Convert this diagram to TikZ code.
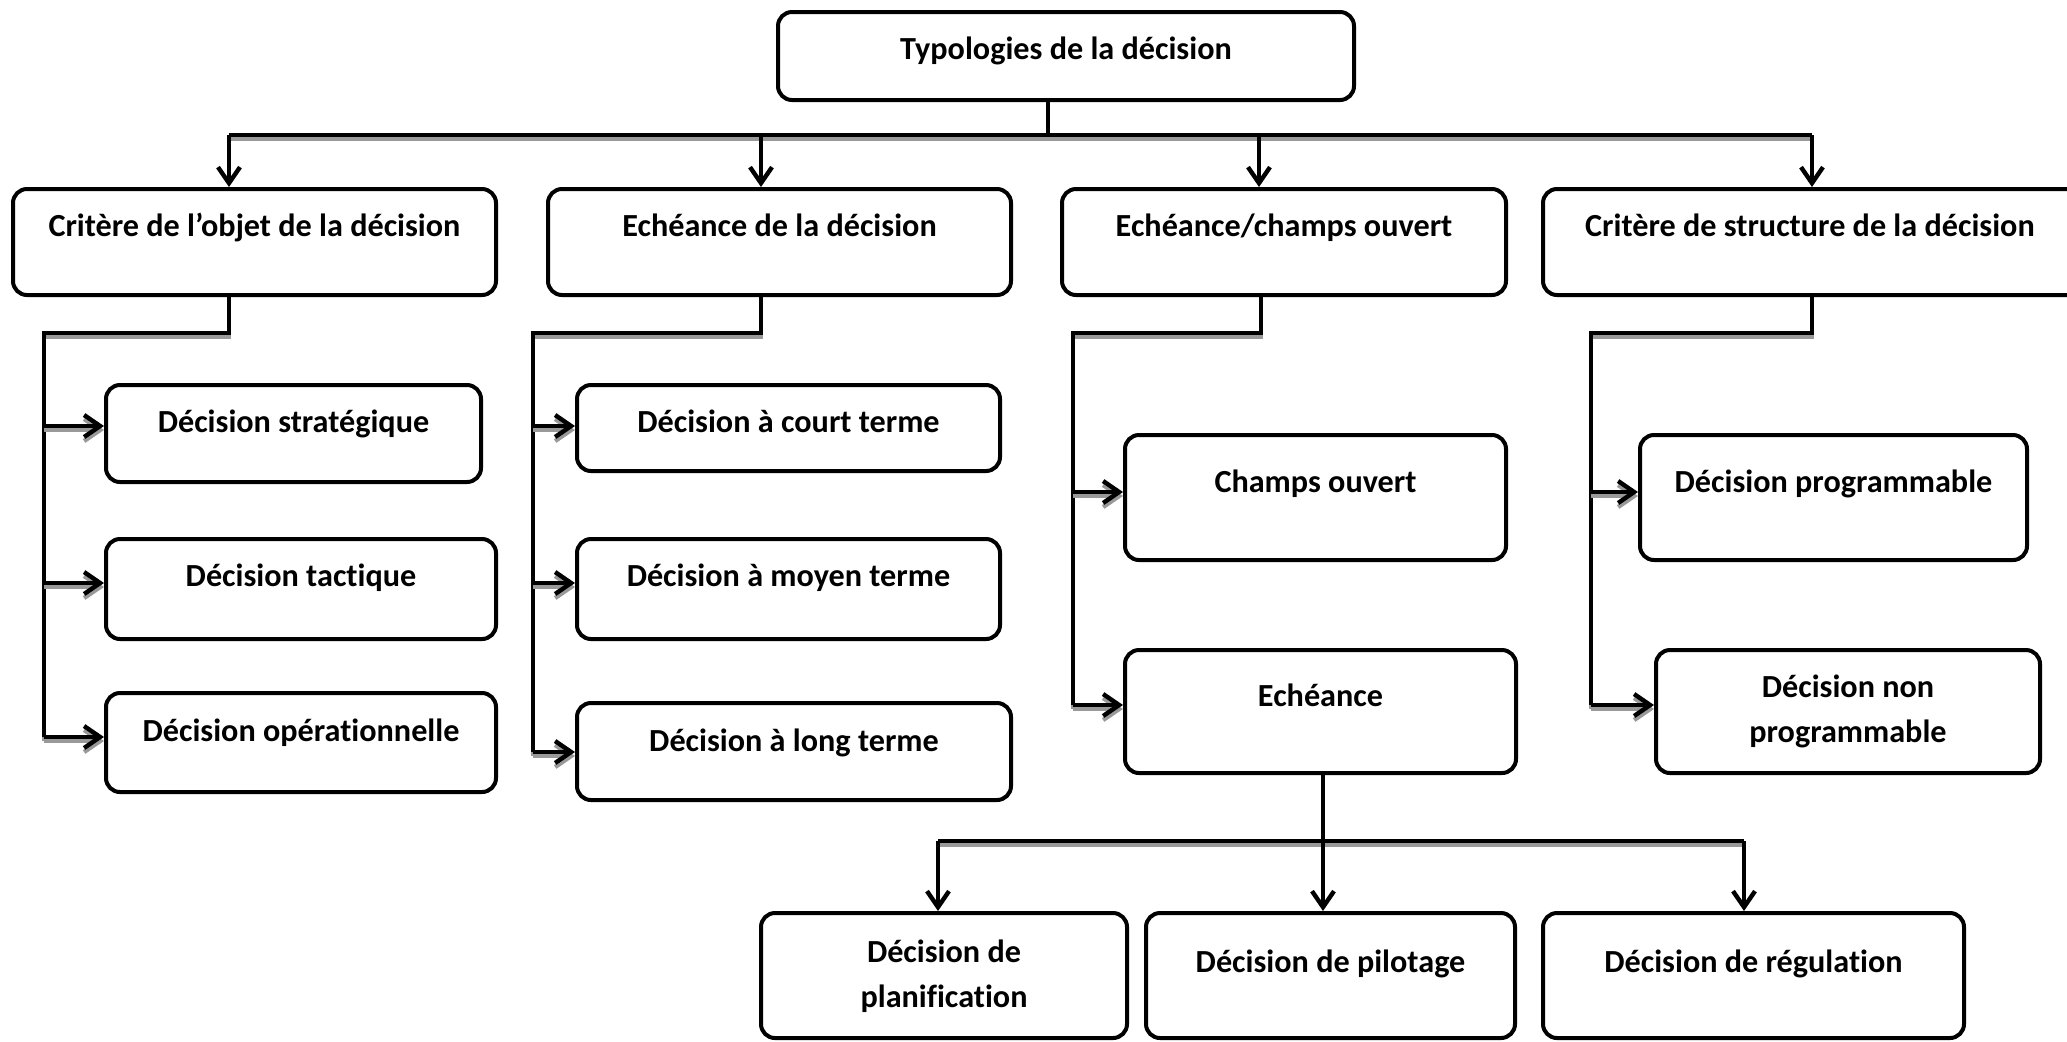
\documentclass[tikz,border=0pt]{standalone}
\usepackage{fontspec}
\setmainfont{Carlito}[Ligatures=NoCommon]
\usetikzlibrary{arrows.meta,backgrounds}

% rounded box given by its corners (x1,y1)-(x2,y2), in pixel units
\newcommand\mybox[5]{%
  \node[box, minimum width={(#4-#2)*0.5pt}, minimum height={(#5-#3)*0.5pt}]
    (#1) at ({(#2+#4)/2},{(#3+#5)/2}) {};}
% one line of text set on a baseline
\newcommand\mytext[4]{\node[lbl, anchor=base] (#1) at (#2,#3) {#4};}
% a connector with its grey drop shadow underneath
\newcommand\wire[2]{\draw[shade,#1] #2; \draw[wireline,#1] #2;}

\begin{document}
\begin{tikzpicture}[x=0.5pt,y=-0.5pt,
  box/.style={draw, line width=2pt, rounded corners=7pt, fill=white, inner sep=0pt},
  lbl/.style={font=\fontsize{16.1}{22.5}\selectfont\bfseries, align=center, inner sep=0pt},
  wireline/.style={line width=1.9pt, draw=black},
  shade/.style={line width=1.9pt, draw=black!40, transform canvas={yshift=-2pt}},
  tip/.style={-{Straight Barb[length=8pt,width=11pt,line width=2.2pt]}}]
\useasboundingbox (0,0) rectangle (2067,1041);

% ---------- boxes ----------
\mybox{T}{778}{12}{1354}{100}
\mybox{A}{13}{189}{496}{295}
\mybox{B}{548}{189}{1011}{295}
\mybox{C}{1062}{189}{1506}{295}
\mybox{D}{1543}{189}{2085}{295}
\mybox{S}{106}{385}{481}{482}
\mybox{Tac}{106}{539}{496}{639}
\mybox{Op}{106}{693}{496}{792}
\mybox{CT}{577}{385}{1000}{471}
\mybox{MT}{577}{539}{1000}{639}
\mybox{LT}{577}{703}{1011}{800}
\mybox{CO}{1125}{435}{1506}{560}
\mybox{E}{1125}{650}{1516}{773}
\mybox{DP}{1640}{435}{2027}{560}
\mybox{DNP}{1656}{650}{2040}{773}
\mybox{P}{761}{913}{1127}{1038}
\mybox{Pi}{1146}{913}{1515}{1038}
\mybox{R}{1543}{913}{1964}{1038}

% ---------- junction points ----------
\coordinate (j0) at (1048,135);
\coordinate (ja) at (229,135);
\coordinate (jb) at (761,135);
\coordinate (jc) at (1259,135);
\coordinate (jd) at (1812,135);
\coordinate (ak) at (229,333);  \coordinate (al) at (44,333);
\coordinate (bk) at (761,333);  \coordinate (bl) at (533,333);
\coordinate (ck) at (1261,333); \coordinate (cl) at (1073,333);
\coordinate (dk) at (1812,333); \coordinate (dl) at (1591,333);
\coordinate (ek) at (1323,841);
\coordinate (el) at (938,841);
\coordinate (er) at (1744,841);

% ---------- connectors, behind the boxes ----------
\begin{scope}[on background layer]
% main trunk
\draw[wireline] (j0 |- T.south) -- (j0);
\wire{}{(ja) -- (jd)}
\draw[wireline,tip] (ja) -- (ja |- A.north);
\draw[wireline,tip] (jb) -- (jb |- B.north);
\draw[wireline,tip] (jc) -- (jc |- C.north);
\draw[wireline,tip] (jd) -- (jd |- D.north);

% branch under A
\wire{}{(ak |- A.south) -- (ak) -- (al) -- (44,737)}
\wire{tip}{(44,426) -- (S.west |- 44,426)}
\wire{tip}{(44,583) -- (Tac.west |- 44,583)}
\wire{tip}{(44,737) -- (Op.west |- 44,737)}

% branch under B
\wire{}{(bk |- B.south) -- (bk) -- (bl) -- (533,752)}
\wire{tip}{(533,426) -- (CT.west |- 533,426)}
\wire{tip}{(533,583) -- (MT.west |- 533,583)}
\wire{tip}{(533,752) -- (LT.west |- 533,752)}

% branch under C
\wire{}{(ck |- C.south) -- (ck) -- (cl) -- (1073,705)}
\wire{tip}{(1073,492) -- (CO.west |- 1073,492)}
\wire{tip}{(1073,705) -- (E.west |- 1073,705)}

% branch under D
\wire{}{(dk |- D.south) -- (dk) -- (dl) -- (1591,705)}
\wire{tip}{(1591,492) -- (DP.west |- 1591,492)}
\wire{tip}{(1591,705) -- (DNP.west |- 1591,705)}

% branch under the Echeance box
\wire{}{(el) -- (er)}
\draw[wireline,tip] (ek |- E.south) -- (ek |- Pi.north);
\draw[wireline,tip] (el) -- (el |- P.north);
\draw[wireline,tip] (er) -- (er |- R.north);
\end{scope}

% ---------- texts ----------
\mytext{tT}{1066}{59}{Typologies de la décision}
\mytext{tA}{254.5}{236}{Critère de l’objet de la décision}
\mytext{tB}{779.5}{236}{Echéance de la décision}
\mytext{tC}{1284}{236}{Echéance/champs ouvert}
\mytext{tD}{1810}{236}{Critère de structure de la décision}
\mytext{tS}{293.5}{432}{Décision stratégique}
\mytext{tTac}{301}{586}{Décision tactique}
\mytext{tOp}{301}{741}{Décision opérationnelle}
\mytext{tCT}{788.5}{432}{Décision à court terme}
\mytext{tMT}{788.5}{586}{Décision à moyen terme}
\mytext{tLT}{794}{751}{Décision à long terme}
\mytext{tCO}{1315.5}{492}{Champs ouvert}
\mytext{tE}{1320.5}{706}{Echéance}
\mytext{tDP}{1833.5}{492}{Décision programmable}
\node[lbl] (tDNP) at (1848,711.5) {Décision non\\programmable};
\node[lbl] (tP) at (944,976.5) {Décision de\\planification};
\mytext{tPi}{1330.5}{972}{Décision de pilotage}
\mytext{tR}{1753.5}{972}{Décision de régulation}
\end{tikzpicture}
\end{document}
